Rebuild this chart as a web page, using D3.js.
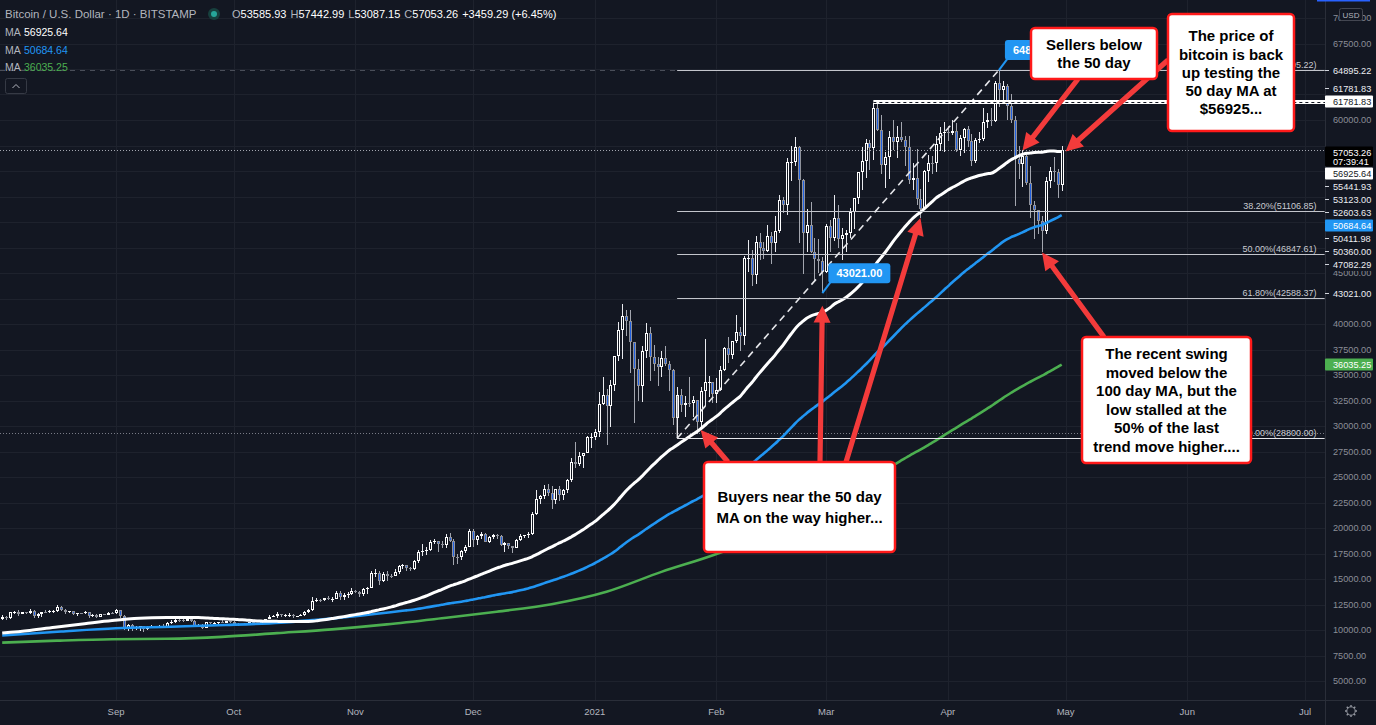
<!DOCTYPE html>
<html>
<head>
<meta charset="utf-8">
<title>Bitcoin / U.S. Dollar 1D</title>
<script src="https://cdn.jsdelivr.net/npm/d3@7/dist/d3.min.js"></script>
<style>
  html, body { margin: 0; padding: 0; background: #131722; overflow: hidden; }
  svg { display: block; }
  text { font-family: "Liberation Sans", Arial, sans-serif; }
</style>
</head>
<body>
<svg id="chart" width="1376" height="725"></svg>
<script>
// daily candles, BTC/USD Bitstamp, one per day from firstDay
var firstDay = "2020-08-03";

var opens = [
  // Aug
  11060,11230,11190,11740,11770,11600,11760,11680,11880,11400,11570,11780,11770,11860,11910,12300,11960,11750,11860,11530,11680,11650,11760,11340,11470,11320,11530,11480,11710,
  // Sep
  11680,11920,11390,10170,10470,10170,10250,10370,10130,10240,10360,10400,10440,10330,10680,10790,10950,10940,10930,11080,10920,10420,10530,10240,10740,10690,10730,10775,10700,10840,
  // Oct
  10780,10620,10570,10550,10670,10790,10600,10670,10920,11050,11300,11380,11550,11430,11430,11500,11330,11370,11500,11750,11920,12820,12980,12940,13130,13030,13070,13650,13280,13460,13560,
  // Nov
  13800,13760,13550,14030,14160,15590,15590,14840,15480,15330,15310,15700,16290,16330,16070,15960,16730,17660,17790,17820,18660,18700,18420,18370,19160,18730,17150,17140,17720,18180,
  // Dec
  19700,18790,19220,19440,18650,19150,19360,19170,18320,18550,18260,18040,18800,19170,19270,19440,21350,22800,23130,23850,23480,22740,23820,23240,23730,24690,26450,26250,27040,27360,28880,
  // Jan
  28950,29370,32190,33000,31990,33990,36820,39370,40780,40250,38240,35570,33920,37330,39150,36800,36050,35800,36640,36030,35500,30830,33010,32090,32280,32270,32520,30430,33440,34270,34320,
  // Feb
  33110,33540,35510,37670,36940,38290,39250,38850,46450,46500,44850,48010,47450,47190,48610,47940,49160,52150,51680,55890,55890,57400,54100,48880,49710,47060,46340,46190,
  // Mar
  45140,49590,48440,50350,48370,48760,48880,50970,52380,54880,55960,57770,57220,61190,59010,55610,56370,58310,57860,58330,58030,57350,54080,54340,52300,51300,55030,55820,55780,57620,58770,
  // Apr
  58800,58730,58970,57060,58210,59120,57960,56000,58070,58100,59770,60000,59860,63580,62960,63310,61400,60000,56150,55680,56470,53800,51700,51190,50100,49070,54030,55040,54880,53586
];
var highs = [
  11470,11420,11790,11910,11920,11800,11800,12060,11940,11630,11790,12000,11970,11930,12470,12400,12020,11880,11890,11690,11710,11820,11770,11540,11590,11560,11590,11720,11790,
  12080,11950,11460,10620,10570,10350,10400,10440,10350,10500,10400,10480,10580,10780,10940,11100,11040,11030,11170,11080,10990,10580,10550,10790,10770,10790,10800,10960,10860,10860,
  10930,10660,10600,10700,10800,10800,10690,10950,11100,11490,11430,11720,11560,11550,11630,11550,11400,11520,11820,12030,13220,13180,13030,13170,13340,13250,13780,13860,13640,13680,14090,
  13900,13820,14070,14240,15750,15970,15770,15660,15830,15460,15940,16340,16480,16330,16140,16860,17850,18480,18140,18800,18960,18730,18770,19400,19490,18900,17450,17880,18340,19870,
  19920,19330,19600,19530,19170,19420,19410,19290,18640,18570,18280,18950,19410,19340,19570,21560,23770,23280,24180,24290,24100,23830,24100,23780,24790,26870,28420,27500,27390,28990,29300,
  29680,33300,34800,33640,34500,36880,40200,41950,41400,41400,38260,36600,37850,40100,39700,37900,36800,37400,37850,36400,35600,33800,33600,32950,34850,32900,32560,33800,38500,34930,34330,
  34700,35900,37700,38700,38300,40900,39700,46700,48200,47300,48600,48950,48050,49700,49000,50600,52600,52500,56300,57500,58350,57500,54200,51300,52000,48400,48300,46600,
  49800,50200,52600,51700,49450,49200,51400,52400,54900,57400,58100,58000,61782,61600,60500,56900,58970,60000,59400,59850,58400,58400,55800,57200,53200,55100,56600,56500,58400,59300,59800,
  59400,60000,59750,58500,59250,59450,58650,58200,58800,61200,60700,61200,63800,64895,63800,63550,62500,60400,57500,57100,56800,55442,52100,51200,50600,54400,55400,56400,55200,57443
];
var lows = [
  10950,11000,11090,11580,11350,11540,11520,11530,11150,11160,11270,11650,11700,11690,11800,11820,11580,11680,11500,11380,11520,11600,11150,11270,11140,11290,11430,11460,11570,
  11530,11160,10020,9880,9900,10010,9880,9850,10000,10200,10200,10300,10220,10250,10630,10680,10750,10800,10880,10770,10360,10360,10140,10210,10540,10660,10630,10660,10640,10670,
  10440,10370,10500,10520,10600,10530,10560,10530,10830,11050,11250,11200,11290,11300,11260,11220,11300,11350,11400,11690,11900,12700,12730,12890,12900,12780,13060,12920,12990,13130,13430,
  13630,13220,13300,13550,14100,15210,14380,14720,14850,15100,15290,15460,15980,15810,15770,15880,16550,17220,17340,17760,18430,17640,18010,18030,18600,16330,16500,16880,17520,18170,
  18180,18340,18930,18590,18530,18920,18900,18200,17650,17930,17580,18020,18720,19000,19050,19300,21240,22360,22800,23100,21900,22400,22600,22700,23440,24510,25850,26100,25880,27320,27850,
  28650,28950,32030,28130,29900,33450,36350,36530,38800,35200,30300,32500,32400,36700,34400,35400,33900,34800,35900,33400,30100,28800,31400,30900,31900,30840,29240,29880,31950,32880,32300,
  32300,33430,35380,36200,36600,38150,37400,37950,45100,43750,43900,46250,46400,47050,45900,47100,48950,50900,50700,54000,55500,47900,44900,47100,47000,44100,45000,43021,
  45000,47100,48100,47500,46300,47100,48400,49300,51800,53100,54300,55100,56100,58950,54700,53300,54200,57100,56300,57800,55500,53700,53100,51700,50360,51300,53900,54700,54900,57000,56900,
  57900,58500,56900,56500,56800,57400,55500,55800,57700,57900,59200,59400,59800,61300,62000,60000,59700,51540,54200,53400,53600,50411,48300,48800,47082,48800,53300,53900,52350,53087
];
var closes = [
  11230,11190,11740,11770,11600,11760,11680,11880,11400,11570,11780,11770,11860,11910,12300,11960,11750,11860,11530,11680,11650,11760,11340,11470,11320,11530,11480,11710,11680,
  11920,11390,10170,10470,10170,10250,10370,10130,10240,10360,10400,10440,10330,10680,10790,10950,10940,10930,11080,10920,10420,10530,10240,10740,10690,10730,10775,10700,10840,10780,
  10620,10570,10550,10670,10790,10600,10670,10920,11050,11300,11380,11550,11430,11430,11500,11330,11370,11500,11750,11920,12820,12980,12940,13130,13030,13070,13650,13280,13460,13560,13800,
  13760,13550,14030,14160,15590,15590,14840,15480,15330,15310,15700,16290,16330,16070,15960,16730,17660,17790,17820,18660,18700,18420,18370,19160,18730,17150,17140,17720,18180,19700,
  18790,19220,19440,18650,19150,19360,19170,18320,18550,18260,18040,18800,19170,19270,19440,21350,22800,23130,23850,23480,22740,23820,23240,23730,24690,26450,26250,27040,27360,28880,28950,
  29370,32190,33000,31990,33990,36820,39370,40780,40250,38240,35570,33920,37330,39150,36800,36050,35800,36640,36030,35500,30830,33010,32090,32280,32270,32520,30430,33440,34270,34320,33110,
  33540,35510,37670,36940,38290,39250,38850,46450,46500,44850,48010,47450,47190,48610,47940,49160,52150,51680,55890,55890,57400,54100,48880,49710,47060,46340,46190,45140,
  49590,48440,50350,48370,48760,48880,50970,52380,54880,55960,57770,57220,61190,59010,55610,56370,58310,57860,58330,58030,57350,54080,54340,52300,51300,55030,55820,55780,57620,58770,58800,
  58730,58970,57060,58210,59120,57960,56000,58070,58100,59770,60000,59860,63580,62960,63310,61400,60000,56150,55680,56470,53800,51700,51190,50100,49070,54030,55040,54880,53594,57053
];

// moving averages: start of each line (window not yet full), rest computed
var ma50Lead = [["2020-08-03",9700],["2020-08-10",9960],["2020-08-17",10300],["2020-08-24",10620],["2020-08-31",10930],["2020-09-07",11150],["2020-09-14",11220]];
var ma100Lead = [["2020-08-03",9460],["2020-08-18",9850],["2020-09-01",10170],["2020-09-15",10320],["2020-09-29",10490],["2020-10-13",10725],["2020-10-27",11160]];
var ma200Lead = [["2020-08-03",8760],["2020-08-17",8955],["2020-08-31",9100],["2020-09-14",9140],["2020-09-28",9330],["2020-10-12",9690],["2020-10-26",10060],["2020-11-09",10550],["2020-11-23",11150],["2020-12-07",11790],["2020-12-21",12530],["2021-01-04",13750],["2021-01-18",15700],["2021-02-01",17450],["2021-02-15",19700]];
var maPeriods = [50, 100, 200];
var maColors = ["#ffffff", "#2196f3", "#4caf50"];
var maLegend = ["56925.64", "50684.64", "36035.25"];

// fib retracement from the Jan low to the Apr high
var fibFrom = ["2021-01-22", 28800.00];
var fibTo = ["2021-04-14", 64895.22];
var fibEnd = "2021-07-06";
var fibRatios = [0, 0.382, 0.5, 0.618, 1];
var fibTexts = ["0.00%(28800.00)", "38.20%(51106.85)", "50.00%(46847.61)", "61.80%(42588.37)", "100.00%(64895.22)"];
var fibPrices = [28800.00, 51106.85, 46847.61, 42588.37, 64895.22];

var hLine = ["2021-03-13", 61781.83];
var lastPrice = 57053.26;
var dottedLevel = 29300;

// price scale marks
var markValues = [64895.22, 61781.83, 61781.83, 57053.26, 56925.64, 55441.93, 53123.00, 52603.63, 50684.64, 50411.98, 50360.00, 47082.29, 43021.00, 36035.25];
var markKinds = ["plain", "plain", "white", "last", "white", "plain", "plain", "plain", "blue", "plain", "plain", "plain", "plain", "green"];
var countdown = "07:39:41";

var bubbles = [["2021-02-28", 43021.00, "43021.00"], ["2021-04-14", 64895.22, "64895.22"]];

var callouts = [
  {lines: ["Sellers below", "the 50 day"], box: [1031, 28, 126, 51], lh: 17.5,
   arrows: [[1078, 79, "2021-04-20", 57000]]},
  {lines: ["The price of", "bitcoin is back", "up testing the", "50 day MA at", "$56925..."], box: [1168, 14, 126, 117], lh: 18.2,
   arrows: [[1168, 60, "2021-05-01", 56900]]},
  {lines: ["The recent swing", "moved below the", "100 day MA, but the", "low stalled at the", "50% of the last", "trend move higher...."], box: [1082, 337, 169, 126], lh: 18.5,
   arrows: [[1104, 337, "2021-04-25", 47000]]},
  {lines: ["Buyers near the 50 day", "MA on the way higher..."], box: [704, 462, 191, 90], lh: 21,
   arrows: [[728, 462, "2021-01-28", 29600], [820, 462, "2021-02-28", 41800], [846, 462, "2021-03-25", 50400]]}
];

// ---------------------------------------------------------------
var W = 1376, H = 725, plotW = 1325, plotH = 700;
var bg = "#131722", gridColor = "#1e222d", axisText = "#8b8e97";
var parse = d3.utcParse("%Y-%m-%d");
var start = parse(firstDay);

var x = d3.scaleUtc()
    .domain([parse("2020-09-01"), parse("2021-07-01")])
    .range([116, 1305]);
var y = d3.scaleLinear()
    .domain([10000, 60000])
    .range([630, 120]);

var candles = closes.map(function(c, i) {
    return {date: d3.utcDay.offset(start, i), o: opens[i], h: highs[i], l: lows[i], c: c};
});

var svg = d3.select("#chart");
svg.append("rect").attr("width", W).attr("height", H).attr("fill", bg);

svg.append("clipPath").attr("id", "plotclip")
    .append("rect").attr("width", plotW).attr("height", plotH);

var plot = svg.append("g").attr("clip-path", "url(#plotclip)");

// grid
var months = d3.utcMonth.range(parse("2020-09-01"), parse("2021-07-02"));
var priceTicks = d3.range(5000, 70001, 2500);

plot.append("g").selectAll("line").data(months).enter().append("line")
    .attr("x1", function(d) { return Math.round(x(d)) + 0.5; })
    .attr("x2", function(d) { return Math.round(x(d)) + 0.5; })
    .attr("y1", 0).attr("y2", plotH)
    .attr("stroke", gridColor);
plot.append("g").selectAll("line").data(priceTicks).enter().append("line")
    .attr("y1", function(d) { return Math.round(y(d)) + 0.5; })
    .attr("y2", function(d) { return Math.round(y(d)) + 0.5; })
    .attr("x1", 0).attr("x2", plotW)
    .attr("stroke", gridColor);

// helper lines behind the candles
plot.append("line")
    .attr("x1", 0).attr("x2", x(parse(fibFrom[0])))
    .attr("y1", Math.round(y(fibTo[1])) + 0.5).attr("y2", Math.round(y(fibTo[1])) + 0.5)
    .attr("stroke", "#4a4e59").attr("stroke-dasharray", "5,5");
plot.append("line")
    .attr("x1", 0).attr("x2", plotW)
    .attr("y1", Math.round(y(dottedLevel)) + 0.5).attr("y2", Math.round(y(dottedLevel)) + 0.5)
    .attr("stroke", "#787b86").attr("stroke-dasharray", "1,2");

// candles
var cg = plot.append("g").attr("shape-rendering", "crispEdges");
candles.forEach(function(d) {
    var cx = Math.round(x(d.date));
    var up = d.c >= d.o;
    cg.append("rect")
        .attr("x", cx).attr("width", 1)
        .attr("y", Math.round(y(d.h))).attr("height", Math.max(1, Math.round(y(d.l)) - Math.round(y(d.h))))
        .attr("fill", up ? "#e8e9ee" : "#a3a6af");
    var top = Math.round(y(Math.max(d.o, d.c)));
    var bot = Math.round(y(Math.min(d.o, d.c)));
    var bh = Math.max(1, bot - top);
    cg.append("rect").attr("x", cx - 1).attr("width", 3).attr("y", top).attr("height", bh)
        .attr("fill", up ? "#ffffff" : "#8f929b");
    if (bh > 2) {
        cg.append("rect").attr("x", cx).attr("width", 1).attr("y", top + 1).attr("height", bh - 2)
            .attr("fill", up ? bg : "#1f5fe0");
    }
});

// current price line
plot.append("line")
    .attr("x1", 0).attr("x2", plotW)
    .attr("y1", Math.round(y(lastPrice)) + 0.5).attr("y2", Math.round(y(lastPrice)) + 0.5)
    .attr("stroke", "#a3a6af").attr("stroke-dasharray", "1,2");

// moving averages
function sma(period) {
    var out = [], sum = 0;
    for (var i = 0; i < closes.length; i++) {
        sum += closes[i];
        if (i >= period) sum -= closes[i - period];
        if (i >= period - 1) out.push([candles[i].date, sum / period]);
    }
    return out;
}
var maLine = d3.line()
    .x(function(d) { return x(d[0]); })
    .y(function(d) { return y(d[1]); })
    .curve(d3.curveMonotoneX);
[ma200Lead, ma100Lead, ma50Lead].forEach(function(lead, k) {
    var idx = 2 - k;
    var pts = lead.map(function(p) { return [parse(p[0]), p[1]]; }).concat(sma(maPeriods[idx]));
    plot.append("path").datum(pts)
        .attr("d", maLine)
        .attr("fill", "none")
        .attr("stroke", maColors[idx])
        .attr("stroke-width", idx === 0 ? 3 : 2.6)
        .attr("stroke-linejoin", "round");
});

// fib retracement
var fx1 = x(parse(fibFrom[0])), fx2 = x(parse(fibEnd));
var fib = plot.append("g");
fibPrices.forEach(function(p, i) {
    var ly = Math.round(y(p)) + 0.5;
    fib.append("line").attr("x1", fx1).attr("x2", fx2).attr("y1", ly).attr("y2", ly)
        .attr("stroke", fibRatios[i] === 0 ? "#e6e7eb" : "#c3c5cc").attr("stroke-width", 1);
    fib.append("text").attr("x", fx2 - 8).attr("y", ly - 3)
        .attr("text-anchor", "end").attr("font-size", 9).attr("fill", "#c9cbd1")
        .text(fibTexts[i]);
});
fib.append("line")
    .attr("x1", fx1).attr("x2", fx1)
    .attr("y1", y(fibFrom[1])).attr("y2", y(fibFrom[1]) - 42)
    .attr("stroke", "#e6e7eb");
// trend line of the fib
plot.append("line")
    .attr("x1", fx1).attr("y1", y(fibFrom[1]))
    .attr("x2", x(parse(fibTo[0]))).attr("y2", y(fibTo[1]))
    .attr("stroke", "#e6e7eb").attr("stroke-width", 1.6).attr("stroke-dasharray", "7,5");

// horizontal level from the Mar high
var hy = Math.round(y(hLine[1]));
var hx = x(parse(hLine[0]));
plot.append("rect").attr("x", hx).attr("y", hy - 2).attr("width", plotW - hx).attr("height", 4).attr("fill", "#ffffff");
plot.append("line").attr("x1", hx).attr("x2", plotW).attr("y1", hy + 0.5).attr("y2", hy + 0.5)
    .attr("stroke", bg).attr("stroke-dasharray", "3,3");

// price bubbles
bubbles.forEach(function(b) {
    var ax = x(parse(b[0])), ay = y(b[1]);
    var bx = ax + 6, by = ay - 30;
    plot.append("line").attr("x1", ax).attr("y1", ay).attr("x2", bx + 3).attr("y2", by + 18)
        .attr("stroke", "#2196f3").attr("stroke-width", 2);
    plot.append("rect").attr("x", bx).attr("y", by).attr("width", 62).attr("height", 20).attr("rx", 3)
        .attr("fill", "#2196f3");
    plot.append("text").attr("x", bx + 31).attr("y", by + 14).attr("text-anchor", "middle")
        .attr("font-size", 11).attr("font-weight", "bold").attr("fill", "#ffffff").text(b[2]);
});

// callouts with arrows
function arrowPath(x1, y1, x2, y2) {
    var dx = x2 - x1, dy = y2 - y1, L = Math.sqrt(dx * dx + dy * dy);
    var ux = dx / L, uy = dy / L, px = -uy, py = ux;
    var hl = 17, hw = 8.5, sw = 2.6;
    var bx = x2 - ux * hl, by = y2 - uy * hl;
    return "M" + [x1 + px * sw, y1 + py * sw] + "L" + [bx + px * sw, by + py * sw] +
        "L" + [bx + px * hw, by + py * hw] + "L" + [x2, y2] + "L" + [bx - px * hw, by - py * hw] +
        "L" + [bx - px * sw, by - py * sw] + "L" + [x1 - px * sw, y1 - py * sw] + "Z";
}
var ann = svg.append("g");
callouts.forEach(function(c) {
    c.arrows.forEach(function(a) {
        ann.append("path").attr("d", arrowPath(a[0], a[1], x(parse(a[2])), y(a[3])))
            .attr("fill", "#f33b3b");
    });
});
callouts.forEach(function(c) {
    var b = c.box;
    ann.append("rect").attr("x", b[0]).attr("y", b[1]).attr("width", b[2]).attr("height", b[3])
        .attr("rx", 4).attr("fill", "#ffffff").attr("stroke", "#ff1a1a").attr("stroke-width", 2.5);
    var cy = b[1] + b[3] / 2 - (c.lines.length - 1) * c.lh / 2;
    c.lines.forEach(function(t, i) {
        ann.append("text").attr("x", b[0] + b[2] / 2).attr("y", cy + i * c.lh + 5.3)
            .attr("text-anchor", "middle").attr("font-size", 15).attr("font-weight", "bold")
            .attr("fill", "#000000").text(t);
    });
});

// ---- price axis ----
var axis = svg.append("g");
axis.append("rect").attr("x", plotW).attr("y", 0).attr("width", W - plotW).attr("height", H).attr("fill", bg);
axis.append("line").attr("x1", plotW + 0.5).attr("x2", plotW + 0.5).attr("y1", 0).attr("y2", H).attr("stroke", "#2a2e39");

// stack price marks so they do not overlap
var slot = 13;
var rankOf = {plain: 1, white: 2, blue: 2, green: 2, last: 3};
var marks = markValues.map(function(v, i) {
    var k = markKinds[i];
    return {v: v, kind: k, h: k === "last" ? 21 : slot, py: y(v),
            want: k === "last" ? y(v) - 4 : y(v) - slot / 2, rank: rankOf[k], order: i};
});
marks.sort(function(a, b) { return a.py - b.py || a.order - b.order; });
function place(c) {
    var ai = c.items.indexOf(c.anchor);
    c.anchor.top = c.anchor.want;
    for (var j = ai - 1; j >= 0; j--) c.items[j].top = c.items[j + 1].top - c.items[j].h;
    for (j = ai + 1; j < c.items.length; j++) c.items[j].top = c.items[j - 1].top + c.items[j - 1].h;
    var last = c.items[c.items.length - 1];
    c.top = c.items[0].top;
    c.bottom = last.top + last.h;
}
var clusters = marks.map(function(m) { return {items: [m], anchor: m}; });
clusters.forEach(place);
var merged = true;
while (merged) {
    merged = false;
    for (var j = 0; j < clusters.length - 1; j++) {
        var a = clusters[j], b = clusters[j + 1];
        if (a.bottom > b.top + 0.01) {
            var c = {items: a.items.concat(b.items), anchor: b.anchor.rank > a.anchor.rank ? b.anchor : a.anchor};
            place(c);
            clusters.splice(j, 2, c);
            merged = true;
            break;
        }
    }
}

// regular ticks, skipping those hidden under a mark
var shownTicks = priceTicks.filter(function(v) {
    var t0 = y(v) - 3.3, t1 = y(v) + 3.3;
    return marks.every(function(m) {
        return Math.min(t1, m.top + m.h) - Math.max(t0, m.top) <= 2;
    });
});
axis.append("g").selectAll("text").data(shownTicks).enter().append("text")
    .attr("x", 1333).attr("y", function(d) { return y(d) + 3.3; })
    .attr("font-size", 9.2).attr("fill", axisText)
    .text(function(d) { return d3.format(".2f")(d); });

var boxColors = {white: ["#ffffff", "#131722"], blue: ["#2196f3", "#ffffff"], green: ["#4caf50", "#ffffff"], last: ["#000000", "#ffffff"]};
marks.forEach(function(m) {
    var t = Math.round(m.top);
    if (m.kind === "plain") {
        axis.append("rect").attr("x", plotW + 1).attr("y", t).attr("width", W - plotW).attr("height", m.h).attr("fill", bg);
        axis.append("line").attr("x1", plotW).attr("x2", plotW + 4).attr("y1", t + 6.5).attr("y2", t + 6.5).attr("stroke", "#d1d4dc");
        axis.append("text").attr("x", 1333).attr("y", t + 9.8).attr("font-size", 9.2).attr("fill", "#eceef2").text(d3.format(".2f")(m.v));
    } else {
        var col = boxColors[m.kind];
        axis.append("rect").attr("x", plotW).attr("y", t + 0.5).attr("width", 48).attr("height", m.h - 1).attr("rx", 1).attr("fill", col[0]);
        axis.append("text").attr("x", 1333).attr("y", t + 9.8).attr("font-size", 9.2).attr("fill", col[1]).text(d3.format(".2f")(m.v));
        if (m.kind === "last") {
            axis.append("text").attr("x", 1333).attr("y", t + 18.5).attr("font-size", 9.2).attr("fill", col[1]).text(countdown);
        }
    }
});
// USD box
axis.append("rect").attr("x", 1339.5).attr("y", 8.5).attr("width", 23).attr("height", 12).attr("rx", 2)
    .attr("fill", bg).attr("stroke", "#434651");
axis.append("text").attr("x", 1351).attr("y", 17.5).attr("text-anchor", "middle").attr("font-size", 8).attr("fill", "#b2b5be").text("USD");
axis.append("rect").attr("x", 1317).attr("y", 0).attr("width", 53).attr("height", 1.5).attr("fill", "#2962ff");

// ---- time axis ----
var taxis = svg.append("g");
taxis.append("rect").attr("x", 0).attr("y", plotH).attr("width", W).attr("height", H - plotH).attr("fill", bg);
taxis.append("line").attr("x1", 0).attr("x2", W).attr("y1", plotH + 0.5).attr("y2", plotH + 0.5).attr("stroke", "#2a2e39");
taxis.append("line").attr("x1", plotW + 0.5).attr("x2", plotW + 0.5).attr("y1", plotH).attr("y2", H).attr("stroke", "#2a2e39");
taxis.append("g").selectAll("text").data(months).enter().append("text")
    .attr("x", function(d) { return x(d); }).attr("y", 714.5)
    .attr("text-anchor", "middle").attr("font-size", 9.5).attr("fill", "#b2b5be")
    .text(function(d) { return d.getUTCMonth() === 0 ? d3.utcFormat("%Y")(d) : d3.utcFormat("%b")(d); });
// gear icon
var gear = taxis.append("g").attr("transform", "translate(1351,711)").attr("stroke", "#9598a1").attr("fill", "none");
gear.append("circle").attr("r", 4.2);
d3.range(8).forEach(function(i) {
    var a = i * Math.PI / 4;
    gear.append("line").attr("x1", Math.cos(a) * 4.2).attr("y1", Math.sin(a) * 4.2)
        .attr("x2", Math.cos(a) * 6).attr("y2", Math.sin(a) * 6).attr("stroke-width", 1.4);
});

// ---- legend ----
var legend = svg.append("g");
legend.append("text").attr("x", 5).attr("y", 18).attr("font-size", 11.5).attr("fill", "#b2b5be")
    .text("Bitcoin / U.S. Dollar \u00b7 1D \u00b7 BITSTAMP");
legend.append("circle").attr("cx", 214).attr("cy", 14).attr("r", 6).attr("fill", "#17403e");
legend.append("circle").attr("cx", 214).attr("cy", 14).attr("r", 3).attr("fill", "#26a69a");
var ohlc = legend.append("text").attr("x", 232).attr("y", 18).attr("font-size", 11);
[["O", "53585.93"], ["H", "57442.99"], ["L", "53087.15"], ["C", "57053.26"]].forEach(function(p, i) {
    ohlc.append("tspan").attr("fill", "#b2b5be").attr("dx", i ? 4 : 0).text(p[0]);
    ohlc.append("tspan").attr("fill", "#ffffff").text(p[1]);
});
ohlc.append("tspan").attr("fill", "#ffffff").attr("dx", 4).text("+3459.29 (+6.45%)");
maLegend.forEach(function(v, i) {
    legend.append("text").attr("x", 5).attr("y", 36 + i * 17.5).attr("font-size", 10.5).attr("fill", "#b2b5be").text("MA");
    legend.append("text").attr("x", 24).attr("y", 36 + i * 17.5).attr("font-size", 10.5).attr("fill", maColors[i]).text(v);
});
legend.append("rect").attr("x", 5.5).attr("y", 78.5).attr("width", 21).attr("height", 15).attr("rx", 2)
    .attr("fill", "none").attr("stroke", "#363a45");
legend.append("path").attr("d", "M12.5,88 L16,84.5 L19.5,88").attr("fill", "none").attr("stroke", "#b2b5be");
</script>
</body>
</html>
